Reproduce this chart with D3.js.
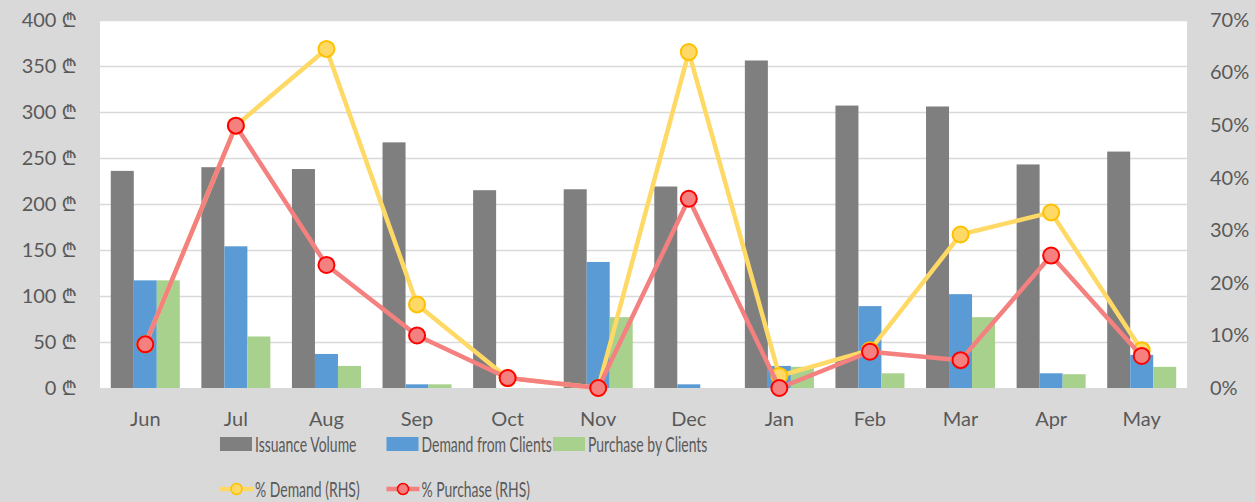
<!DOCTYPE html>
<html>
<head>
<meta charset="utf-8">
<script src="https://cdn.jsdelivr.net/npm/d3@7"></script>
<style>
  html, body { margin: 0; padding: 0; background: #D9D9D9; }
  svg { display: block; }
  text { font-family: Lato, "Noto Sans", "DejaVu Sans", sans-serif; fill: #595959; }
</style>
</head>
<body>
<script>
// ---- data ----
const months = ["Jun","Jul","Aug","Sep","Oct","Nov","Dec","Jan","Feb","Mar","Apr","May"];
const issuanceVolume = [236, 240, 238, 267, 215, 216, 219, 356, 307, 306, 243, 257];
const demandFromClients = [117, 154, 37, 4, 0, 137, 4, 24, 89, 102, 16, 36];
const purchaseByClients = [117, 56, 24, 4, 0, 77, 0, 23, 16, 77, 15, 23];
const pctDemand = [8.3, 49.9, 64.5, 15.9, 1.9, 0, 63.9, 2.3, 7.2, 29.2, 33.4, 7.2];
const pctPurchase = [8.3, 49.9, 23.4, 10.0, 1.9, 0, 36.0, 0, 6.9, 5.3, 25.2, 6.1];
const leftTicks = [0, 50, 100, 150, 200, 250, 300, 350, 400];
const rightTicks = [0, 10, 20, 30, 40, 50, 60, 70];
const barSeries = ["Issuance Volume", "Demand from Clients", "Purchase by Clients"];
const lineSeries = ["% Demand (RHS)", "% Purchase (RHS)"];

// ---- styles ----
const barColors = ["#7F7F7F", "#5B9BD5", "#A9D18E"];
const lineColors = ["#FFD966", "#F4807F"];
const markerStroke = ["#FFC000", "#FF0000"];

const W = 1255, H = 502;
const plot = { left: 100, right: 1187, top: 20, bottom: 388 };

const svg = d3.select("body").append("svg").attr("width", W).attr("height", H);
svg.append("rect").attr("width", W).attr("height", H).attr("fill", "#D9D9D9");
svg.append("rect")
  .attr("x", plot.left).attr("y", plot.top)
  .attr("width", plot.right - plot.left).attr("height", plot.bottom - plot.top)
  .attr("fill", "#FFFFFF");

const x = d3.scaleBand().domain(months).range([plot.left, plot.right]).padding(0);
const bw = x.bandwidth();
const x1 = d3.scaleBand().domain(barSeries).range([bw * 0.119, bw * 0.881]).padding(0);
const y = d3.scaleLinear().domain([0, 400]).range([plot.bottom, plot.top]);
const y2 = d3.scaleLinear().domain([0, 70]).range([plot.bottom, plot.top]);

// gridlines
const grid = svg.append("g").attr("transform", `translate(${plot.left},0)`)
  .call(d3.axisLeft(y).tickValues(leftTicks.filter(t => t > 0))
    .tickSize(-(plot.right - plot.left)).tickFormat(""));
grid.select(".domain").remove();
grid.selectAll("line").attr("stroke", "#D9D9D9").attr("stroke-width", 1.5);

// bars
const barData = [issuanceVolume, demandFromClients, purchaseByClients];
barSeries.forEach((s, si) => {
  svg.append("g").selectAll("rect")
    .data(months.map((m, i) => ({ m, v: barData[si][i] })))
    .join("rect")
    .attr("x", d => x(d.m) + x1(s))
    .attr("width", x1.bandwidth())
    .attr("y", d => y(d.v))
    .attr("height", d => y(0) - y(d.v))
    .attr("fill", barColors[si]);
});

// lines
const lineData = [pctDemand, pctPurchase];
const line = d3.line().x(d => x(d.m) + bw / 2).y(d => y2(d.v));
lineSeries.forEach((s, si) => {
  const pts = months.map((m, i) => ({ m, v: lineData[si][i] }));
  svg.append("path").datum(pts)
    .attr("d", line).attr("fill", "none")
    .attr("stroke", lineColors[si]).attr("stroke-width", 4.5)
    .attr("stroke-linejoin", "round").attr("stroke-linecap", "round");
  svg.append("g").selectAll("circle").data(pts).join("circle")
    .attr("cx", d => x(d.m) + bw / 2).attr("cy", d => y2(d.v))
    .attr("r", 8).attr("fill", lineColors[si])
    .attr("stroke", markerStroke[si]).attr("stroke-width", 2);
});

// axes
const fs = 20;
const leftAxis = svg.append("g").attr("transform", `translate(${plot.left},0)`)
  .call(d3.axisLeft(y).tickValues(leftTicks).tickSize(0).tickPadding(23).tickFormat(d => d + " ₾"));
const rightAxis = svg.append("g").attr("transform", `translate(${plot.right},0)`)
  .call(d3.axisRight(y2).tickValues(rightTicks).tickSize(0).tickPadding(23).tickFormat(d => d + "%"));
const bottomAxis = svg.append("g").attr("transform", `translate(0,${plot.bottom})`)
  .call(d3.axisBottom(x).tickSize(0).tickPadding(24));
[leftAxis, rightAxis, bottomAxis].forEach(a => {
  a.select(".domain").remove();
  a.selectAll("text").attr("font-size", fs).attr("font-family", null).style("fill", "#595959");
});

// legend
const legX0 = 220, legColW = 166.5, squeeze = 0.635, legFs = 22;
const legend = svg.append("g");
barSeries.forEach((s, i) => {
  const lx = legX0 + i * legColW, ly = 444;
  legend.append("rect").attr("x", lx).attr("y", ly - 7).attr("width", 32).attr("height", 14)
    .attr("fill", barColors[i]);
  legend.append("text").attr("transform", `translate(${lx + 35},${ly + 7.5}) scale(${squeeze},1)`)
    .attr("font-size", legFs).text(s);
});
lineSeries.forEach((s, i) => {
  const lx = legX0 + i * legColW, ly = 489;
  legend.append("line").attr("x1", lx).attr("x2", lx + 33).attr("y1", ly).attr("y2", ly)
    .attr("stroke", lineColors[i]).attr("stroke-width", 4.5);
  legend.append("circle").attr("cx", lx + 16.5).attr("cy", ly).attr("r", 5.5)
    .attr("fill", lineColors[i]).attr("stroke", markerStroke[i]).attr("stroke-width", 1.5);
  legend.append("text").attr("transform", `translate(${lx + 35},${ly + 7.5}) scale(${squeeze},1)`)
    .attr("font-size", legFs).text(s);
});
</script>
</body>
</html>
